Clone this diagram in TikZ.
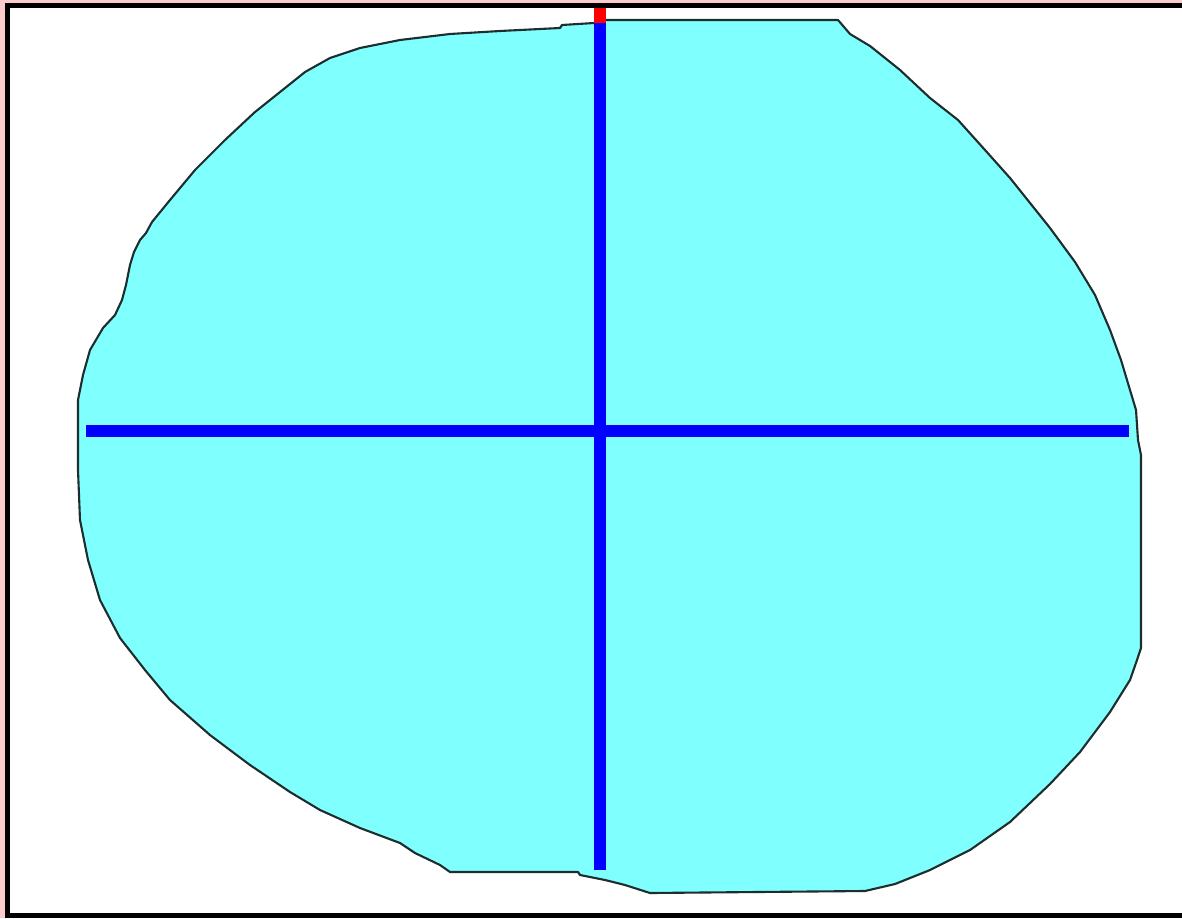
\documentclass[tikz,border=0pt]{standalone}
\usepackage{tikz}
\definecolor{blobfill}{RGB}{128,255,255}
\definecolor{blobline}{RGB}{30,45,45}
\definecolor{pinkedge}{RGB}{255,204,204}
\tikzset{
  axisline/.style={draw=blue, line width=3.4pt},
  blobshape/.style={fill=blobfill, draw=blobline, line width=0.6pt, line join=round},
  frameline/.style={draw=black, line width=1.45pt}
}
\begin{document}
\begin{tikzpicture}[x=0.01cm,y=-0.01cm]
\useasboundingbox (0,0) rectangle (1182,918);
\fill[white] (0,0) rectangle (1182,918);
% pink edge strips
\fill[pinkedge] (0,0) rectangle (5,918);
\fill[pinkedge] (0,0) rectangle (1182,3);
% black frame
\fill[black] (5,3) rectangle (10,918);
\fill[black] (5,3) rectangle (1182,8);
\fill[black] (5,913) rectangle (1182,918);
% blob
\path[blobshape] (606,20) -- (838,20) -- (850,34) -- (870,46) -- (900,70) -- (930,98) -- (958,120)
 -- (985,150) -- (1010,178) -- (1050,228) -- (1075,262) -- (1095,295) -- (1110,330) -- (1121,360)
 -- (1130,390) -- (1136,410) -- (1138,440) -- (1141,455) -- (1141,648) -- (1137,660) -- (1130,680)
 -- (1110,712) -- (1080,752) -- (1050,784) -- (1010,822) -- (970,850) -- (930,870) -- (895,884)
 -- (865,891) -- (650,893) -- (625,885) -- (605,880) -- (580,875) -- (578,872) -- (450,872)
 -- (440,865) -- (415,853) -- (400,843) -- (360,828) -- (320,810) -- (290,792) -- (250,765)
 -- (210,735) -- (170,700) -- (145,670) -- (120,638) -- (100,600) -- (88,560) -- (80,520)
 -- (78,470) -- (78,400) -- (83,375) -- (90,350) -- (103,328) -- (115,315) -- (122,300)
 -- (126,285) -- (130,265) -- (134,252) -- (140,240) -- (146,233) -- (152,222) -- (170,200)
 -- (195,170) -- (225,140) -- (255,112) -- (285,88) -- (305,72) -- (330,58) -- (360,48)
 -- (400,40) -- (450,34) -- (500,31) -- (560,28) -- (562,25) -- (594,23) -- cycle;
% axes
\coordinate (vtop) at (600,8);
\coordinate (vjoin) at (600,23);
\coordinate (vbot) at (600,870);
\coordinate (hl) at (86,431);
\coordinate (hr) at (1129,431);
\draw[axisline, draw=red] (vtop) -- (vjoin);
\draw[axisline] (vjoin) -- (vbot);
\draw[axisline] (hl) -- (hr);
\end{tikzpicture}
\end{document}
